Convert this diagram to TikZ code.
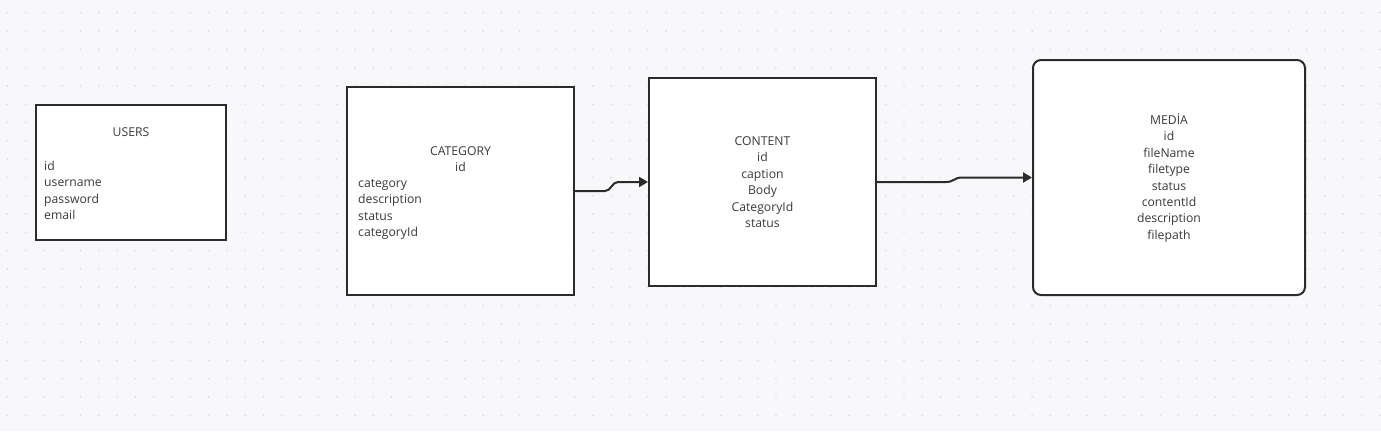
\documentclass[tikz,border=0pt]{standalone}
\usepackage{fontspec}
\setmainfont{Open Sans}
\usetikzlibrary{arrows.meta}
\definecolor{bgc}{HTML}{F8F8FA}
\definecolor{dotc}{HTML}{DCDCE0}
\definecolor{linec}{HTML}{2B2B2B}
\definecolor{txtc}{HTML}{3A3A3A}
\tikzset{
  entity/.style={draw=linec, line width=2pt, fill=white, rectangle, inner sep=0pt},
  txt/.style={text=txtc, font=\fontsize{12.2}{16.4}\selectfont, inner sep=0pt},
  conn/.style={draw=linec, line width=2pt, -{Triangle[length=9pt,width=10pt]}},
}
\begin{document}
\begin{tikzpicture}[x=1pt,y=-1pt]
\fill[bgc] (0,0) rectangle (1381,431);
\useasboundingbox (0,0) rectangle (1381,431);
% dot grid
\foreach \i in {0,...,75}{
  \foreach \j in {0,...,23}{
    \fill[dotc] ({7.3+18.3*\i},{12.7+18.3*\j}) circle (0.9);
  }
}
% boxes
\node[entity, minimum width=190, minimum height=135] (users) at (131,172.5) {};
\node[entity, minimum width=227, minimum height=208] (cat) at (460.5,191) {};
\node[entity, minimum width=227, minimum height=208] (con) at (762.5,182) {};
\node[entity, rounded corners=8pt, minimum width=272, minimum height=235] (med) at (1169,177.5) {};
% USERS text
\node[txt, anchor=base] (usersT) at (131,136.5) {USERS};
\foreach \t [count=\i] in {id,username,password,email}
  \node[txt, anchor=base west] (u\i) at (44,{170.5+16.4*(\i-1)}) {\t};
% CATEGORY text
\node[txt, anchor=base] (catT) at (460.5,155.5) {CATEGORY};
\node[txt, anchor=base] (catId) at (460.5,171.5) {id};
\foreach \t [count=\i] in {category,description,status,categoryId}
  \node[txt, anchor=base west] (c\i) at (358,{187.5+16.4*(\i-1)}) {\t};
% CONTENT text
\foreach \t [count=\i] in {CONTENT,id,caption,Body,CategoryId,status}
  \node[txt, anchor=base] (n\i) at (762.5,{145.5+16.4*(\i-1)}) {\t};
% MEDIA text
\foreach \t [count=\i] in {MEDİA,id,fileName,filetype,status,contentId,description,filepath}
  \node[txt, anchor=base] (m\i) at (1169,{124.5+16.4*(\i-1)}) {\t};
% connectors
\draw[conn] (cat.east) -- ++(30,0) .. controls +(6,0) and +(-6,0) .. ++(13,-9) -- (con.west);
\draw[conn] (con.east) -- ++(69,0) .. controls +(8,0) and +(-8,0) .. ++(16,-4.5) -- (med.west);
\end{tikzpicture}
\end{document}
